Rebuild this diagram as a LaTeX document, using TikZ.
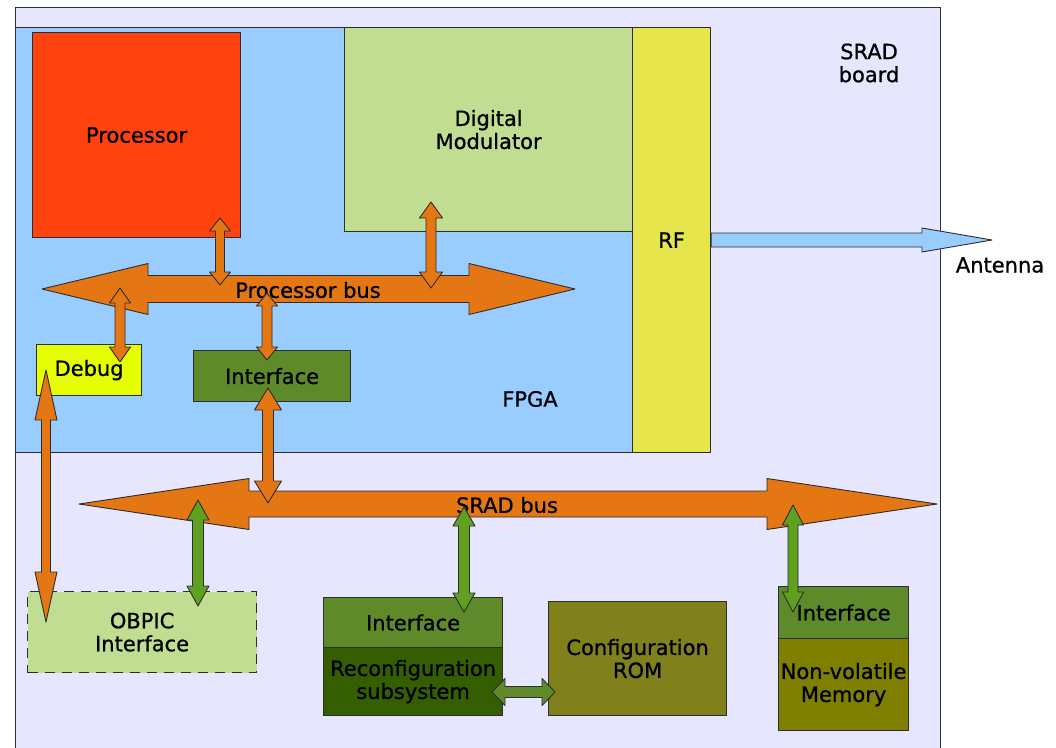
\documentclass[tikz,border=0pt]{standalone}
\usepackage{fontspec}
\setmainfont{DejaVu Sans}[FakeBold=0.9]
\definecolor{boardc}{RGB}{230,230,255}
\definecolor{fpgac}{RGB}{153,204,255}
\definecolor{procc}{RGB}{255,66,14}
\definecolor{lgreen}{RGB}{192,221,145}
\definecolor{rfc}{RGB}{230,230,76}
\definecolor{dbgc}{RGB}{230,255,0}
\definecolor{ifc}{RGB}{94,138,42}
\definecolor{recc}{RGB}{53,94,0}
\definecolor{romc}{RGB}{128,128,28}
\definecolor{nvc}{RGB}{128,128,0}
\definecolor{orc}{RGB}{228,119,20}
\definecolor{grc}{RGB}{96,160,32}
\definecolor{edge}{RGB}{45,45,45}
\newcommand\vdarr[7]{\path[#1] (#2,#3) -- ({#2+#6},{#3+#7}) -- ({#2+#5},{#3+#7}) -- ({#2+#5},{#4-#7}) -- ({#2+#6},{#4-#7}) -- (#2,#4) -- ({#2-#6},{#4-#7}) -- ({#2-#5},{#4-#7}) -- ({#2-#5},{#3+#7}) -- ({#2-#6},{#3+#7}) -- cycle;}
\newcommand\hdarr[7]{\path[#1] (#3,#2) -- ({#3+#7},{#2-#6}) -- ({#3+#7},{#2-#5}) -- ({#4-#7},{#2-#5}) -- ({#4-#7},{#2-#6}) -- (#4,#2) -- ({#4-#7},{#2+#6}) -- ({#4-#7},{#2+#5}) -- ({#3+#7},{#2+#5}) -- ({#3+#7},{#2+#6}) -- cycle;}
\begin{document}
\begin{tikzpicture}[x=1pt,y=-1pt,
  box/.style={draw=edge, line width=1.2pt, inner sep=0pt, anchor=north west, align=center,
    font=\fontsize{21}{23}\selectfont},
  lbl/.style={inner sep=0pt, align=center, font=\fontsize{21}{23}\selectfont},
  oarr/.style={fill=orc, draw=edge, line width=0.9pt, line join=round},
  garr/.style={fill=grc, draw=edge, line width=0.9pt, line join=round},
  garrd/.style={fill=ifc, draw=edge, line width=0.9pt, line join=round},
  barr/.style={fill=fpgac, draw=edge, line width=0.9pt, line join=round}]
\clip (0,0) rectangle (1056,747);
\fill[white] (0,0) rectangle (1056,747);
% board and FPGA
\node[box, fill=boardc, minimum width=925pt, minimum height=780pt] (board) at (15,7) {};
\node[box, fill=fpgac, minimum width=617pt, minimum height=425pt] (fpga) at (15,27) {};
\node[box, fill=procc, minimum width=208pt, minimum height=205pt] (proc) at (32,32) {Processor};
\node[box, fill=lgreen, minimum width=288pt, minimum height=204pt] (mod) at (344,27) {Digital\\Modulator};
\node[box, fill=rfc, minimum width=78pt, minimum height=425pt] (rf) at (632,27) {RF};
\node[box, fill=dbgc, minimum width=105pt, minimum height=51pt] (debug) at (36,344) {Debug};
\node[box, fill=ifc, minimum width=157pt, minimum height=51pt] (fif) at (193,350) {Interface};
% lower blocks
\node[box, fill=lgreen, dash pattern=on 10pt off 7pt, minimum width=229pt, minimum height=81pt] (obpic) at (27,591) {OBPIC\\Interface};
\node[box, fill=ifc, minimum width=179pt, minimum height=50pt] (rif) at (323,597) {Interface};
\node[box, fill=recc, minimum width=179pt, minimum height=68pt] (recon) at (323,647) {Reconfiguration\\subsystem};
\node[box, fill=romc, minimum width=178pt, minimum height=114pt] (rom) at (548,601) {Configuration\\ROM};
\node[box, fill=ifc, minimum width=130pt, minimum height=52pt] (nif) at (778,586) {Interface};
\node[box, fill=nvc, minimum width=130pt, minimum height=92pt] (nvm) at (778,638) {Non-volatile\\Memory};
% free labels
\node[lbl] (lboard) at (869,63) {SRAD\\board};
\node[lbl] (lfpga) at (530,399) {FPGA};
\node[lbl] (lant) at (1000,265) {Antenna};
% buses
\hdarr{oarr}{289}{42}{575}{13.5}{25.5}{106}
\hdarr{oarr}{504}{79}{937}{13}{25.5}{170}
\node[lbl] (lpbus) at (308,290) {Processor bus};
\node[lbl] (lsbus) at (507,505) {SRAD bus};
% antenna arrow
\path[barr] (rf.east |- 0,233) -- (922,233) -- (922,228) -- (992,240) -- (922,252) -- (922,247) -- (rf.east |- 0,247) -- cycle;
% small orange arrows
\vdarr{oarr}{220}{218}{285}{4.5}{10.5}{13}
\vdarr{oarr}{431}{202}{288}{5}{11.5}{16}
\vdarr{oarr}{120}{288}{362}{5}{10.5}{15}
\vdarr{oarr}{267}{293}{360}{5}{10.5}{13}
\vdarr{oarr}{268}{388}{503}{5.5}{13.5}{22}
\vdarr{oarr}{46}{370}{622}{4.5}{11}{50}
% green arrows
\vdarr{garr}{198}{500}{606}{5.5}{11}{20}
\vdarr{garr}{464}{507}{612}{5.5}{11}{19}
\vdarr{garr}{793}{505}{612}{5}{10.5}{20}
\hdarr{garrd}{692}{492}{555}{5.5}{13.5}{13}
\end{tikzpicture}
\end{document}
